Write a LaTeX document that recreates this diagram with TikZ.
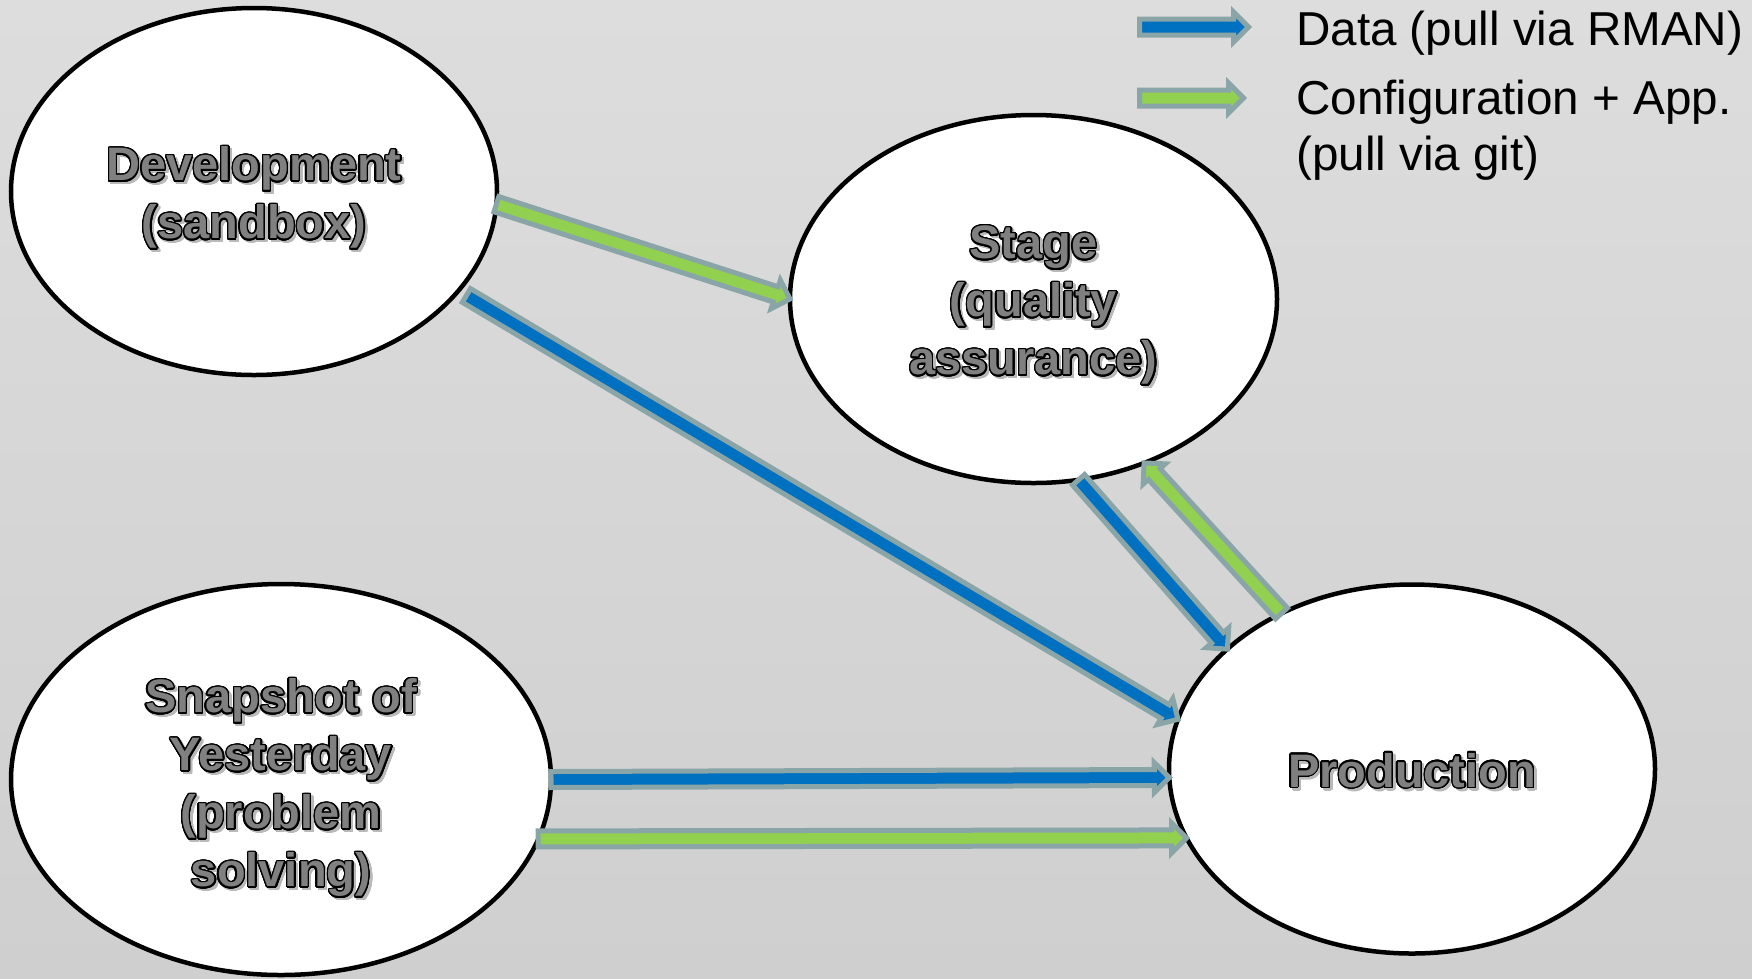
\documentclass[tikz,border=0pt]{standalone}
\usepackage{fontspec}
\setmainfont{Liberation Sans}
\usepackage[copies]{contour}
\usetikzlibrary{calc,shapes.geometric}
\definecolor{bgtop}{RGB}{221,221,221}
\definecolor{bgbot}{RGB}{207,207,207}
\definecolor{arrblue}{RGB}{0,112,192}
\definecolor{arrgreen}{RGB}{146,208,80}
\definecolor{arroutline}{RGB}{138,165,168}
\definecolor{lblgray}{RGB}{128,128,128}
\definecolor{shadowgray}{RGB}{185,185,185}
\contourlength{1.4pt}
\contournumber{24}
\newcommand{\arrsw}{8pt}
\newcommand{\arrhw}{15pt}
\newcommand{\arrhl}{15pt}
\newcommand{\blockarr}[3]{%
  \path #2 coordinate (ba) #3 coordinate (bb);
  \coordinate (bh) at ($(bb)!\arrhl!(ba)$);
  \draw[arrline, fill=#1] ($(ba)!\arrsw!90:(bb)$) -- ($(bh)!\arrsw!-90:(ba)$) -- ($(bh)!\arrhw!-90:(ba)$) -- (bb) -- ($(bh)!\arrhw!90:(ba)$) -- ($(bh)!\arrsw!90:(ba)$) -- ($(ba)!\arrsw!-90:(bb)$) -- cycle;
}
\newcommand{\ol}[1]{\contour{black}{#1}}
\newcommand{\sh}[1]{\contour{shadowgray}{#1}}
\begin{document}
\begin{tikzpicture}[x=1pt,y=-1pt,
  envnode/.style={ellipse, draw=black, fill=white, line width=4.5pt, inner sep=0pt, outer sep=0pt},
  lbl/.style={align=center, inner sep=0pt, text=lblgray, font=\fontsize{47}{58}\selectfont\bfseries},
  shadowlbl/.style={align=center, inner sep=0pt, text=shadowgray, font=\fontsize{47}{58}\selectfont\bfseries},
  legtext/.style={anchor=base west, inner sep=0pt, text=black, font=\fontsize{47.6}{56}\selectfont},
  arrline/.style={draw=arroutline, line width=5pt, line join=miter, miter limit=10}
]
\useasboundingbox (0,0) rectangle (1752,978);
\shade[top color=bgtop, bottom color=bgbot] (0,0) rectangle (1752,978);

% environments
\node[envnode, minimum width=486pt, minimum height=367pt] (dev) at (254,191.5) {};
\node[envnode, minimum width=487pt, minimum height=368pt] (stage) at (1033.5,299) {};
\node[envnode, minimum width=540pt, minimum height=391pt] (snap) at (281,779.5) {};
\node[envnode, minimum width=486pt, minimum height=369pt] (prod) at (1412,769) {};

% labels (shadow, then outlined text)
\node[shadowlbl] (devS) at ([xshift=2.5pt,yshift=-9.5pt]dev.center) {\sh{Development}\\\sh{(sandbox)}};
\node[lbl] (devT) at ([yshift=-7pt]dev.center) {\ol{Development}\\\ol{(sandbox)}};
\node[shadowlbl] (stageS) at ([xshift=2.5pt,yshift=-9.5pt]stage.center) {\sh{Stage}\\\sh{(quality}\\\sh{assurance)}};
\node[lbl] (stageT) at ([yshift=-7pt]stage.center) {\ol{Stage}\\\ol{(quality}\\\ol{assurance)}};
\node[shadowlbl] (snapS) at ([xshift=2.5pt,yshift=-11.5pt]snap.center) {\sh{Snapshot of}\\\sh{Yesterday}\\\sh{(problem}\\\sh{solving)}};
\node[lbl] (snapT) at ([yshift=-9pt]snap.center) {\ol{Snapshot of}\\\ol{Yesterday}\\\ol{(problem}\\\ol{solving)}};
\node[shadowlbl] (prodS) at ([xshift=2.5pt,yshift=-4.5pt]prod.center) {\sh{Production}};
\node[lbl] (prodT) at ([yshift=-2pt]prod.center) {\ol{Production}};

% connectors
\blockarr{arrgreen}{(dev.-3.1)}{(stage.180.2)}
\blockarr{arrblue}{([shift={(8.3,4.4)}]dev.-26.2)}{(prod.168.4)}
\blockarr{arrblue}{(stage.-76.2)}{(prod.147.4)}
\blockarr{arrgreen}{(prod.130.4)}{(stage.-56.9)}
\blockarr{arrblue}{(snap.0)}{(prod.182.35)}
\blockarr{arrgreen}{(snap.-13.4)}{(prod.197.8)}

% legend
\coordinate (lg1a) at (1139.5,27);
\coordinate (lg1b) at (1248.5,27);
\coordinate (lg2a) at (1139.5,98);
\coordinate (lg2b) at (1243.5,98);
\blockarr{arrblue}{(lg1a)}{(lg1b)}
\blockarr{arrgreen}{(lg2a)}{(lg2b)}
\node[legtext] (leg1) at (1296,45) {Data (pull via RMAN)};
\node[legtext] (leg2) at (1296,114) {Configuration + App.};
\node[legtext] (leg3) at (1296,170) {(pull via git)};
\end{tikzpicture}
\end{document}
